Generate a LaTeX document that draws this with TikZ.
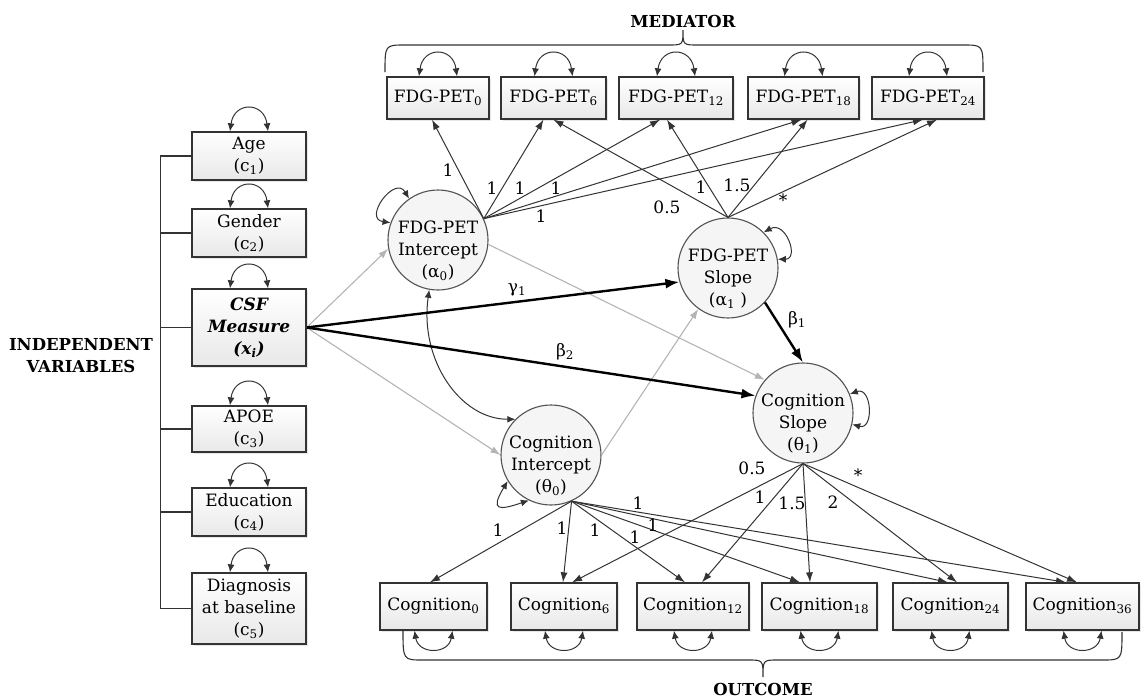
\documentclass[tikz,border=0pt]{standalone}
\usepackage{fontspec}
\usepackage{tikz}
\usetikzlibrary{arrows.meta, positioning, shadows}
\setmainfont{DejaVu Serif}
\definecolor{lineclr}{HTML}{333333}
\definecolor{fadeclr}{HTML}{B4B4B4}

\begin{document}
\begin{tikzpicture}[x=1pt, y=-1pt, >={Latex[length=10pt,width=7pt]},
  font=\fontsize{17}{22}\selectfont,
  varbox/.style={draw=lineclr, line width=1.3pt, top color=white, bottom color=gray!18,
    minimum height=42pt, inner sep=2pt, align=center,
    drop shadow={shadow xshift=1.5pt, shadow yshift=-1.5pt, opacity=0.2}},
  latent/.style={circle, draw=lineclr!85, line width=1.1pt, fill=gray!8,
    minimum size=100pt, inner sep=-12pt},
  lbltxt/.style={align=center, yshift=-11pt, inner sep=0pt},
  load/.style={->, lineclr, line width=1pt},
  struct/.style={->, line width=2.4pt, >={Latex[length=14pt,width=10pt]}},
  weak/.style={->, fadeclr, line width=1.1pt},
  resid/.style={<->, lineclr, line width=1pt, >={Latex[length=8pt,width=7pt]}},
  coef/.style={inner sep=1pt},
  head/.style={font=\fontsize{16.5}{22}\selectfont\bfseries, align=center}]

  \useasboundingbox (0,0) rectangle (1141,699);

  % Nezávislé proměnné
  \node[varbox, minimum width=114pt, minimum height=48pt] (age) at (249,156) {Age\\(c\textsubscript{1})};
  \node[varbox, minimum width=114pt, minimum height=48pt] (gender) at (249,233) {Gender\\(c\textsubscript{2})};
  \node[varbox, minimum width=114pt, minimum height=77pt,
    font=\fontsize{17}{22}\selectfont\bfseries\itshape] (csf) at (249,327.5)
    {CSF\\Measure\\(x\textsubscript{i})};
  \node[varbox, minimum width=114pt, minimum height=46pt] (apoe) at (249,429) {APOE\\(c\textsubscript{3})};
  \node[varbox, minimum width=114pt, minimum height=48pt] (edu) at (249,512) {Education\\(c\textsubscript{4})};
  \node[varbox, minimum width=114pt, minimum height=71pt] (diag) at (249,608.5)
    {Diagnosis\\at baseline\\(c\textsubscript{5})};

  \draw[lineclr, line width=1.2pt] (age.west) -- ++(-31,0) |- (diag.west);
  \foreach \nm in {gender,csf,apoe,edu}
    \draw[lineclr, line width=1.2pt] (\nm.west) -- ++(-31,0);
  \node[head] (indlbl) at (81,356) {INDEPENDENT\\VARIABLES};

  % Mediátor
  \foreach \nm/\xx/\ww/\sub in {f0/438/102/0, f6/553.5/105/6, f12/676/114/12,
      f18/803.5/111/18, f24/928/112/24}
    \node[varbox, minimum width=\ww pt] (\nm) at (\xx,98) {FDG-PET\textsubscript{\sub}};

  % Výsledek
  \foreach \nm/\xx/\ww/\sub in {c0/433.5/107/0, c6/564/106/6, c12/693/112/12,
      c18/819.5/115/18, c24/950.5/115/24, c36/1082.5/113/36}
    \node[varbox, minimum width=\ww pt, minimum height=47pt] (\nm) at (\xx,606.5) {Cognition\textsubscript{\sub}};

  % Rezidua
  \foreach \nm in {age,gender,csf,apoe,edu,diag,f0,f6,f12,f18,f24}
    \draw[resid] ([xshift=-19pt]\nm.north) .. controls +(4,-30) and +(-4,-30) .. ([xshift=19pt]\nm.north);
  \foreach \nm in {c0,c6,c12,c18,c24,c36}
    \draw[resid] ([xshift=-19pt]\nm.south) .. controls +(4,24) and +(-4,24) .. ([xshift=19pt]\nm.south);

  % Latentní proměnné
  \node[latent, label={[lbltxt]center:{FDG-PET\\Intercept\\(α\textsubscript{0})}}] (fi) at (438,240) {};
  \node[latent, label={[lbltxt]center:{FDG-PET\\Slope\\(α\textsubscript{1} )}}] (fs) at (728,268) {};
  \node[latent, label={[lbltxt]center:{Cognition\\Intercept\\(θ\textsubscript{0})}}] (ci) at (551,455) {};
  \node[latent, label={[lbltxt]center:{Cognition\\Slope\\(θ\textsubscript{1})}}] (cs) at (803,413) {};

  \draw[resid] (fi.160) .. controls +(-28,-4) and +(-14,-24) .. (fi.125);
  \draw[resid] (fs.45) .. controls +(22,-12) and +(22,0) .. (fs.10);
  \draw[resid] (cs.22) .. controls +(22,-8) and +(22,6) .. (cs.-13);
  \draw[resid] (ci.211) .. controls +(-18,30) and +(-30,10) .. (ci.244);
  \draw[resid] (fi.260) .. controls +(-10,70) and +(-55,0) .. (ci.135);

  % Zátěže
  \foreach \nm/\dx in {f0/-6, f6/-10, f12/-16, f18/-2, f24/-5}
    \draw[load] (fi.25) -- ([xshift=\dx pt]\nm.south);
  \foreach \nm/\dx in {f6/0, f12/-9, f18/4, f24/9}
    \draw[load] (fs.north) -- ([xshift=\dx pt]\nm.south);
  \foreach \nm/\dx in {c0/-3.5, c6/-1, c12/-8, c18/-19.5, c24/-2.5, c36/-16.5}
    \draw[load] (ci.-66) -- ([xshift=\dx pt]\nm.north);
  \foreach \nm/\dx in {c6/8, c12/9, c18/-9.5, c24/6.5, c36/-5.5}
    \draw[load] (cs.south) -- ([xshift=\dx pt]\nm.north);

  \foreach \xx/\yy/\txt [count=\i] in {448/170/1, 492/188/1, 520/188/1, 556/188/1, 541/216/1,
      667/207/0.5, 701/187/1, 737/185/1.5, 783/200/*}
    \node[coef] (fl\i) at (\xx,\yy) {\txt};
  \foreach \xx/\yy/\txt [count=\i] in {498/530/1, 562/528/1, 595/530/1, 635/537/1, 653/525/1,
      638/503/1, 752/468/0.5, 760/497/1, 792/503/1.5, 833/502/2, 858/475/*}
    \node[coef] (cl\i) at (\xx,\yy) {\txt};

  % Strukturní cesty
  \draw[weak] (csf.east) -- (fi.190);
  \draw[weak] (csf.east) -- (ci.180);
  \draw[weak] (fi.-5) -- (cs.139);
  \draw[weak] (ci.0) -- (fs.234);
  \draw[struct] (csf.east) -- (fs.196);
  \draw[struct] (csf.east) -- (cs.160);
  \draw[struct] (fs.-43) -- (cs.north);
  \node[coef] (gam1) at (517,290) {γ\textsubscript{1}};
  \node[coef] (bet2) at (565,352) {β\textsubscript{2}};
  \node[coef] (bet1) at (797,320) {β\textsubscript{1}};

  % Závorky
  \draw[lineclr, line width=1.1pt] (385,72) .. controls (385,45) .. (405,45) -- (668,45)
    .. controls (683,45) .. (683,30) .. controls (683,45) .. (698,45) -- (963,45)
    .. controls (983,45) .. (983,72);
  \draw[lineclr, line width=1.1pt] (403,630) .. controls (403,660) .. (423,660) -- (748,660)
    .. controls (763,660) .. (763,677) .. controls (763,660) .. (778,660) -- (1102,660)
    .. controls (1122,660) .. (1122,632);
  \node[head] (medlbl) at (683,21) {MEDIATOR};
  \node[head] (outlbl) at (763,689) {OUTCOME};
\end{tikzpicture}
\end{document}
